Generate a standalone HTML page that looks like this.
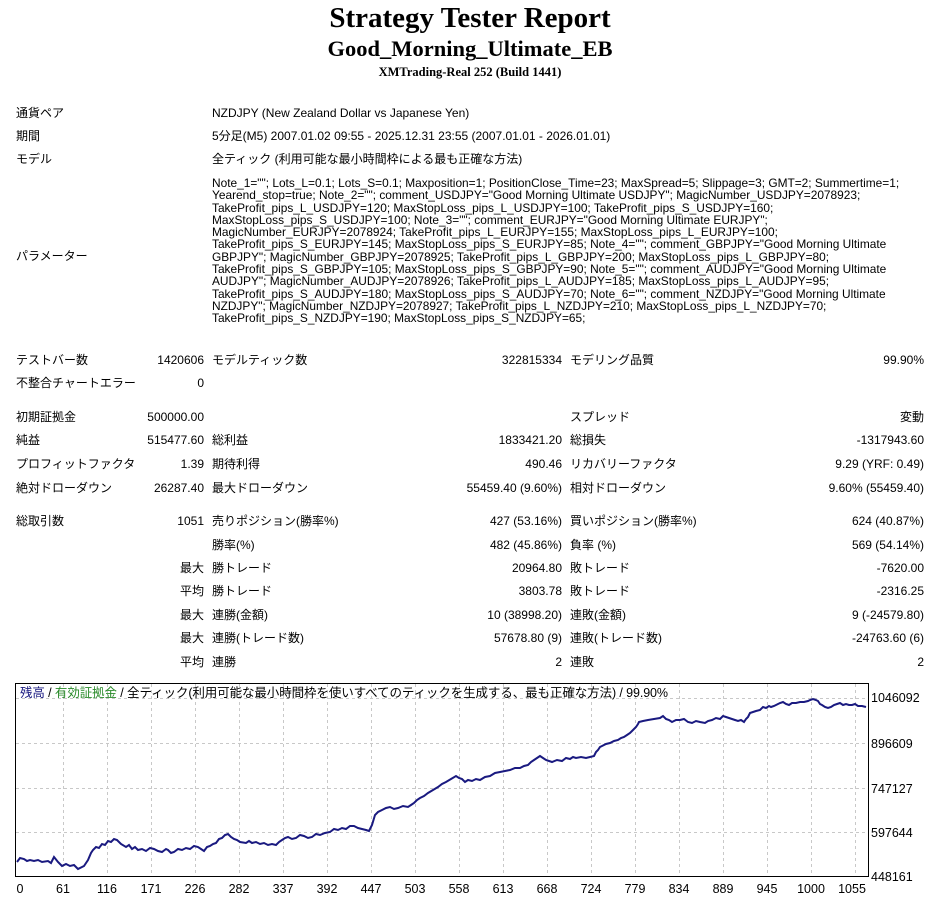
<!DOCTYPE html>
<html><head><meta charset="utf-8"><style>
body{margin:0;background:#fff;width:940px;height:903px;position:relative;overflow:hidden;font-family:"Liberation Sans","Noto Sans CJK JP",sans-serif;font-size:12px;color:#000}
.t{position:absolute;white-space:nowrap;line-height:14px}
.r{text-align:right}
.h{position:absolute;left:0;width:940px;text-align:center;font-family:"Liberation Serif","Noto Serif CJK SC",serif;font-weight:bold;white-space:nowrap}
.p{position:absolute;left:212px;white-space:nowrap;line-height:12.3px;font-size:11.9px}
</style></head><body>
<div class="h" style="top:2px;font-size:29px">Strategy Tester Report</div>
<div class="h" style="top:36px;font-size:22.5px">Good_Morning_Ultimate_EB</div>
<div class="h" style="top:65px;font-size:12.5px">XMTrading-Real 252 (Build 1441)</div>

<div class="t" style="left:16px;top:106px">通貨ペア</div><div class="t" style="left:212px;top:106px">NZDJPY (New Zealand Dollar vs Japanese Yen)</div>
<div class="t" style="left:16px;top:129px">期間</div><div class="t" style="left:212px;top:129px">5分足(M5) 2007.01.02 09:55 - 2025.12.31 23:55 (2007.01.01 - 2026.01.01)</div>
<div class="t" style="left:16px;top:152px">モデル</div><div class="t" style="left:212px;top:152px">全ティック (利用可能な最小時間枠による最も正確な方法)</div>
<div class="t" style="left:16px;top:249px">パラメーター</div>
<div class="p" style="top:177px">Note_1=""; Lots_L=0.1; Lots_S=0.1; Maxposition=1; PositionClose_Time=23; MaxSpread=5; Slippage=3; GMT=2; Summertime=1;<br>
Yearend_stop=true; Note_2=""; comment_USDJPY="Good Morning Ultimate USDJPY"; MagicNumber_USDJPY=2078923;<br>
TakeProfit_pips_L_USDJPY=120; MaxStopLoss_pips_L_USDJPY=100; TakeProfit_pips_S_USDJPY=160;<br>
MaxStopLoss_pips_S_USDJPY=100; Note_3=""; comment_EURJPY="Good Morning Ultimate EURJPY";<br>
MagicNumber_EURJPY=2078924; TakeProfit_pips_L_EURJPY=155; MaxStopLoss_pips_L_EURJPY=100;<br>
TakeProfit_pips_S_EURJPY=145; MaxStopLoss_pips_S_EURJPY=85; Note_4=""; comment_GBPJPY="Good Morning Ultimate<br>
GBPJPY"; MagicNumber_GBPJPY=2078925; TakeProfit_pips_L_GBPJPY=200; MaxStopLoss_pips_L_GBPJPY=80;<br>
TakeProfit_pips_S_GBPJPY=105; MaxStopLoss_pips_S_GBPJPY=90; Note_5=""; comment_AUDJPY="Good Morning Ultimate<br>
AUDJPY"; MagicNumber_AUDJPY=2078926; TakeProfit_pips_L_AUDJPY=185; MaxStopLoss_pips_L_AUDJPY=95;<br>
TakeProfit_pips_S_AUDJPY=180; MaxStopLoss_pips_S_AUDJPY=70; Note_6=""; comment_NZDJPY="Good Morning Ultimate<br>
NZDJPY"; MagicNumber_NZDJPY=2078927; TakeProfit_pips_L_NZDJPY=210; MaxStopLoss_pips_L_NZDJPY=70;<br>
TakeProfit_pips_S_NZDJPY=190; MaxStopLoss_pips_S_NZDJPY=65;</div>

<div class="t" style="left:16px;top:353px">テストバー数</div><div class="t r" style="right:736px;top:353px">1420606</div><div class="t" style="left:212px;top:353px">モデルティック数</div><div class="t r" style="right:378px;top:353px">322815334</div><div class="t" style="left:570px;top:353px">モデリング品質</div><div class="t r" style="right:16px;top:353px">99.90%</div>
<div class="t" style="left:16px;top:376px">不整合チャートエラー</div><div class="t r" style="right:736px;top:376px">0</div>
<div class="t" style="left:16px;top:410px">初期証拠金</div><div class="t r" style="right:736px;top:410px">500000.00</div><div class="t" style="left:570px;top:410px">スプレッド</div><div class="t r" style="right:16px;top:410px">変動</div>
<div class="t" style="left:16px;top:433px">純益</div><div class="t r" style="right:736px;top:433px">515477.60</div><div class="t" style="left:212px;top:433px">総利益</div><div class="t r" style="right:378px;top:433px">1833421.20</div><div class="t" style="left:570px;top:433px">総損失</div><div class="t r" style="right:16px;top:433px">-1317943.60</div>
<div class="t" style="left:16px;top:457px">プロフィットファクタ</div><div class="t r" style="right:736px;top:457px">1.39</div><div class="t" style="left:212px;top:457px">期待利得</div><div class="t r" style="right:378px;top:457px">490.46</div><div class="t" style="left:570px;top:457px">リカバリーファクタ</div><div class="t r" style="right:16px;top:457px">9.29 (YRF: 0.49)</div>
<div class="t" style="left:16px;top:481px">絶対ドローダウン</div><div class="t r" style="right:736px;top:481px">26287.40</div><div class="t" style="left:212px;top:481px">最大ドローダウン</div><div class="t r" style="right:378px;top:481px">55459.40 (9.60%)</div><div class="t" style="left:570px;top:481px">相対ドローダウン</div><div class="t r" style="right:16px;top:481px">9.60% (55459.40)</div>
<div class="t" style="left:16px;top:514px">総取引数</div><div class="t r" style="right:736px;top:514px">1051</div><div class="t" style="left:212px;top:514px">売りポジション(勝率%)</div><div class="t r" style="right:378px;top:514px">427 (53.16%)</div><div class="t" style="left:570px;top:514px">買いポジション(勝率%)</div><div class="t r" style="right:16px;top:514px">624 (40.87%)</div>
<div class="t" style="left:212px;top:538px">勝率(%)</div><div class="t r" style="right:378px;top:538px">482 (45.86%)</div><div class="t" style="left:570px;top:538px">負率 (%)</div><div class="t r" style="right:16px;top:538px">569 (54.14%)</div>
<div class="t r" style="right:736px;top:561px">最大</div><div class="t" style="left:212px;top:561px">勝トレード</div><div class="t r" style="right:378px;top:561px">20964.80</div><div class="t" style="left:570px;top:561px">敗トレード</div><div class="t r" style="right:16px;top:561px">-7620.00</div>
<div class="t r" style="right:736px;top:584px">平均</div><div class="t" style="left:212px;top:584px">勝トレード</div><div class="t r" style="right:378px;top:584px">3803.78</div><div class="t" style="left:570px;top:584px">敗トレード</div><div class="t r" style="right:16px;top:584px">-2316.25</div>
<div class="t r" style="right:736px;top:608px">最大</div><div class="t" style="left:212px;top:608px">連勝(金額)</div><div class="t r" style="right:378px;top:608px">10 (38998.20)</div><div class="t" style="left:570px;top:608px">連敗(金額)</div><div class="t r" style="right:16px;top:608px">9 (-24579.80)</div>
<div class="t r" style="right:736px;top:631px">最大</div><div class="t" style="left:212px;top:631px">連勝(トレード数)</div><div class="t r" style="right:378px;top:631px">57678.80 (9)</div><div class="t" style="left:570px;top:631px">連敗(トレード数)</div><div class="t r" style="right:16px;top:631px">-24763.60 (6)</div>
<div class="t r" style="right:736px;top:655px">平均</div><div class="t" style="left:212px;top:655px">連勝</div><div class="t r" style="right:378px;top:655px">2</div><div class="t" style="left:570px;top:655px">連敗</div><div class="t r" style="right:16px;top:655px">2</div>

<svg style="position:absolute;left:0;top:0" width="940" height="903">
<rect x="15.5" y="683.5" width="853" height="193" fill="#fff" stroke="#000" stroke-width="1"/>
<g stroke="#c8c8c8" stroke-dasharray="3,3" stroke-width="1">
<line x1="16" y1="698.5" x2="868" y2="698.5"/><line x1="16" y1="743.5" x2="868" y2="743.5"/><line x1="16" y1="788.5" x2="868" y2="788.5"/><line x1="16" y1="832.5" x2="868" y2="832.5"/>
<line x1="63.5" y1="684" x2="63.5" y2="876"/><line x1="107.5" y1="684" x2="107.5" y2="876"/><line x1="151.5" y1="684" x2="151.5" y2="876"/><line x1="195.5" y1="684" x2="195.5" y2="876"/><line x1="239.5" y1="684" x2="239.5" y2="876"/><line x1="283.5" y1="684" x2="283.5" y2="876"/><line x1="327.5" y1="684" x2="327.5" y2="876"/><line x1="371.5" y1="684" x2="371.5" y2="876"/><line x1="415.5" y1="684" x2="415.5" y2="876"/><line x1="459.5" y1="684" x2="459.5" y2="876"/><line x1="503.5" y1="684" x2="503.5" y2="876"/><line x1="547.5" y1="684" x2="547.5" y2="876"/><line x1="591.5" y1="684" x2="591.5" y2="876"/><line x1="635.5" y1="684" x2="635.5" y2="876"/><line x1="679.5" y1="684" x2="679.5" y2="876"/><line x1="723.5" y1="684" x2="723.5" y2="876"/><line x1="767.5" y1="684" x2="767.5" y2="876"/><line x1="811.5" y1="684" x2="811.5" y2="876"/><line x1="855.5" y1="684" x2="855.5" y2="876"/>
</g>
<polyline fill="none" stroke="#1a1a80" stroke-width="2" points="17,862 20,858 24,859 27,861 30,860 34,861 38,860 42,862 48,861 51,863 54,857 58,862 62,866 66,864 70,866 74,865 78,869 84,866 88,860 91,853 93,850 96,847 99,848 102,844 105,845 108,841 111,842 114,839 117,840 121,844 126,847 129,845 132,849 135,847 138,850 142,849 146,851 150,848 154,849 158,851 162,852 166,849 168,850 171,853 174,852 178,849 182,850 186,848 190,849 194,846 198,847 201,849 204,851 207,847 210,846 213,844 216,843 219,839 222,838 225,835 228,834 231,837 234,839 237,840 240,842 246,843 249,841 252,843 256,842 260,844 264,843 268,845 272,844 276,845 279,842 282,840 285,838 288,837 292,839 296,838 300,835 304,836 308,838 312,837 316,834 320,835 325,833 330,832 334,829 338,830 342,828 346,829 350,826 354,826 358,828 362,829 366,830 369,831 372,825 375,815 378,812 382,810 386,808 390,807 394,809 398,808 403,806 408,807 411,805 414,803 417,800 420,798 424,796 428,793 433,790 438,787 442,784 446,782 451,779 456,776 459,778 462,779 465,782 468,780 472,781 476,779 480,780 485,777 490,776 495,773 500,772 505,771 510,770 515,768 520,768 524,766 528,765 531,762 534,760 537,758 540,756 543,758 546,760 549,761 552,762 557,760 562,761 566,758 570,759 573,757 576,758 581,757 586,758 590,757 594,756 596,752 598,750 600,747 602,746 606,744 610,743 614,741 618,740 621,738 624,737 627,735 630,733 633,730 636,727 638,724 639,722 643,721 648,720 654,719 660,718 663,716 666,719 669,720 672,722 676,720 680,720 684,719 688,722 692,723 696,721 700,722 705,723 708,721 712,720 716,718 720,719 723,716 726,717 729,718 732,719 735,720 738,721 741,720 744,722 746,719 748,717 750,713 753,712 756,711 760,710 763,707 766,708 769,706 771,707 774,706 776,705 778,704 780,703 783,702 786,704 789,705 792,703 796,703 800,702 804,702 808,701 810,700 813,699 816,700 818,701 820,704 822,705 825,707 828,708 831,707 834,705 837,704 840,703 843,705 846,704 849,705 852,705 855,704 858,706 862,706 866,707"/>
<g font-family="'Liberation Sans','Noto Sans CJK JP',sans-serif" font-size="12.5" fill="#000">
<text x="871" y="702">1046092</text><text x="871" y="748">896609</text><text x="871" y="793">747127</text><text x="871" y="837">597644</text><text x="871" y="881">448161</text>
<g text-anchor="middle"><text x="20" y="893">0</text><text x="63" y="893">61</text><text x="107" y="893">116</text><text x="151" y="893">171</text><text x="195" y="893">226</text><text x="239" y="893">282</text><text x="283" y="893">337</text><text x="327" y="893">392</text><text x="371" y="893">447</text><text x="415" y="893">503</text><text x="459" y="893">558</text><text x="503" y="893">613</text><text x="547" y="893">668</text><text x="591" y="893">724</text><text x="635" y="893">779</text><text x="679" y="893">834</text><text x="723" y="893">889</text><text x="767" y="893">945</text><text x="811" y="893">1000</text><text x="852" y="893">1055</text></g>
<text x="20" y="697" font-size="12.5" textLength="648" lengthAdjust="spacing"><tspan fill="#1a1a80">残高</tspan> / <tspan fill="#2a8a2a">有効証拠金</tspan> / 全ティック(利用可能な最小時間枠を使いすべてのティックを生成する、最も正確な方法) / 99.90%</text>
</g>
</svg>
</body></html>
